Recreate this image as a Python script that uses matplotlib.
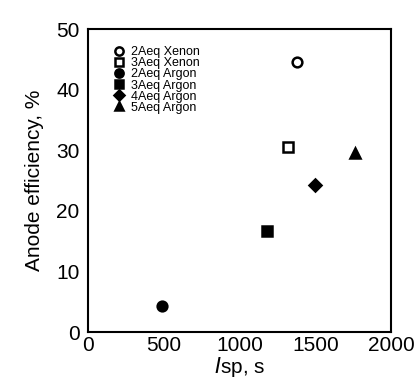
import matplotlib
matplotlib.use("Agg")
import matplotlib.pyplot as plt

plt.rcParams["font.family"] = ["Liberation Sans", "DejaVu Sans"]

# Isp [s] and anode efficiency [%] for each configuration
labels = ["2Aeq Xenon", "3Aeq Xenon", "2Aeq Argon", "3Aeq Argon", "4Aeq Argon", "5Aeq Argon"]
isp = [1380, 1320, 490, 1180, 1500, 1760]
efficiency = [44.5, 30.5, 4.3, 16.7, 24.2, 29.5]
markers = ["o", "s", "o", "s", "D", "^"]
filled = [False, False, True, True, True, True]
sizes = [7, 7, 7, 7, 6, 7]

fig = plt.figure(figsize=(4.17, 3.83), dpi=100)
ax = fig.add_axes([0.211, 0.133, 0.727, 0.791])

for lab, x, y, m, f, s in zip(labels, isp, efficiency, markers, filled, sizes):
    ax.plot(x, y, linestyle="none", marker=m, markersize=s,
            markerfacecolor="black" if f else "white",
            markeredgecolor="black", markeredgewidth=1.8, label=lab)

ax.set_xlim(0, 2000)
ax.set_ylim(0, 50)
ax.set_xticks([0, 500, 1000, 1500, 2000])
ax.set_yticks([0, 10, 20, 30, 40, 50])
ax.tick_params(length=0, labelsize=15)
ax.tick_params(axis="x", pad=3)
ax.tick_params(axis="y", pad=6)
for sp in ax.spines.values():
    sp.set_linewidth(1.5)

ax.set_xlabel(r"$\it{I}$sp, s", fontsize=15, labelpad=0)
ax.set_ylabel("Anode efficiency, %", fontsize=15, labelpad=9)

ax.legend(loc="upper left", frameon=False, fontsize=9, handletextpad=0.5,
          labelspacing=-0.07, borderaxespad=0.0, handlelength=1.0,
          markerscale=0.85, bbox_to_anchor=(0.065, 0.96))

fig.savefig("out.png", dpi=100)
